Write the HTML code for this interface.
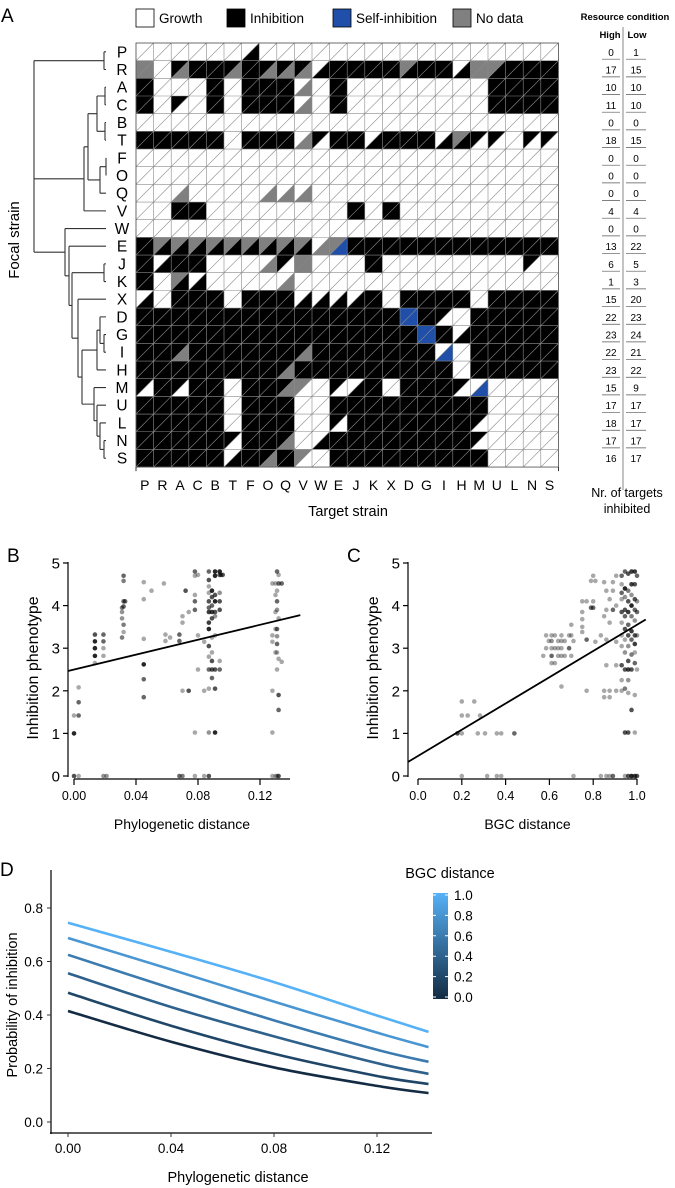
<!DOCTYPE html>
<html><head><meta charset="utf-8"><style>
body{margin:0;background:#fff}
svg{display:block;font-family:"Liberation Sans",Arial,sans-serif}
</style></head><body>
<svg id="fig" width="675" height="1188" viewBox="0 0 675 1188" xmlns="http://www.w3.org/2000/svg">
<g id="panelA"></g>
<g id="panelB"></g>
<g id="panelC"></g>
<g id="panelD"></g>
</svg>
<script>
// ---------- Panel A data ----------
const strains = ["P","R","A","C","B","T","F","O","Q","V","W","E","J","K","X","D","G","I","H","M","U","L","N","S"];
// each cell: first char = upper-left triangle (high), second = lower-right (low); w growth, b inhibition, s self, g no data
const matrixRows = [
"ww ww ww ww ww ww wb ww ww ww ww ww ww ww ww ww ww ww ww ww ww ww ww ww",
"gg ww bg bb bb bg bb bg bg bg wb bb bb bb bb gb bb bb wb gg gb bb bb bb",
"bb ww ww ww bb ww bb bb bb wg ww bb ww ww ww ww ww ww ww ww bb bb bb bb",
"bb ww bw ww bb ww bb bb bb wg ww bb ww ww ww ww ww ww ww ww bb bb bb bb",
"ww ww ww ww ww ww ww ww ww ww ww ww ww ww ww ww ww ww ww ww ww ww ww ww",
"bb bb bb bb bb ww bb bb bb wg bw bb bb wb bb bb bb wb gb bw bw ww bw bw",
"ww ww ww ww ww ww ww ww ww ww ww ww ww ww ww ww ww ww ww ww ww ww ww ww",
"ww ww ww ww ww ww ww ww ww ww ww ww ww ww ww ww ww ww ww ww ww ww ww ww",
"ww ww wg ww ww ww ww wg wg wg ww ww ww ww ww ww ww ww ww ww ww ww ww ww",
"ww ww bb bb ww ww ww ww ww ww ww ww bb ww bb ww ww ww ww ww ww ww ww ww",
"ww ww ww ww ww ww ww ww ww ww ww ww ww ww ww ww ww ww ww ww ww ww ww ww",
"bb gb gb gb gb gb gb gb gb gb wg gs bb bb bb bb bb bb bb bb bb bb bb bb",
"bb wb bb bb ww ww ww wg bw gg ww ww ww bb ww ww ww ww ww ww ww ww bw ww",
"bb ww gb wb ww ww ww ww wg ww ww ww ww ww ww ww ww ww ww ww ww ww ww ww",
"wb ww bb bb bb ww bb bb bb wb wb wb wb bb ww bb bb bb bb ww bb bb bb bb",
"bb bb bb bb bb bb bb bb bb bb bb bb bb bb bb ss bb bw ww bb bb bb bb bb",
"bb bb bb bb bb bb bb bb bb bb bb bb bb bb bb bb ss bb wb bb bb bb bb bb",
"bb bb bg bb bb bb bb bb bb bg bb bb bb bb bb bb bb ws ww bb bb bb bb bb",
"bb bb bb bb bb bb bb bb bg bb bb bb bb bb bb bb bb bb ww bb bb bb bb bb",
"bw bb bw bb bb ww bb bb bg gw ww bw wb bb ww bb bb bb bw ws ww ww ww ww",
"bb bb bb bb bb ww bb bb bb ww ww bb bb bb bb bb bb bb bb bb ww ww ww ww",
"bb bb bb bb bb ww bb bb bb ww ww bw bb bb bb bb bb bb bb bw ww ww ww ww",
"bb bb bb bb bb bw bb bb bg ww wb bb bb bb bb bb bb bb bb bw ww ww ww ww",
"bb bb bb bb bb wb bb bg bb gw ww bb bb bb bb bb bb bb bb bb ww ww ww ww"
];
const highCounts = [0,17,10,11,0,18,0,0,0,4,0,13,6,1,15,22,23,22,23,15,17,18,17,16];
const lowCounts  = [1,15,10,10,0,15,0,0,0,4,0,22,5,3,20,23,24,21,22,9,17,17,17,17];
const legendLabels = ["Growth","Inhibition","Self-inhibition","No data"];

// ---------- Panel B data ----------
const bX = [0,0,0, .003,.003,.003,.003, .0135,.0135,.0135,.0135,.0135, .019,.019,.019,.019, .019,.021,
 .032,.032,.032,.032,.031,.031,.031,.032,.032,.031,.033,
 .045,.045,.045,.045,.045,.045, .050, .058, .059,.059, .062,
 .068,.068,.068, .070,.070,.070,.070, .072, .074,.074,
 .078,.078,.078,.078,.078,.078,.078, .080,.080,.080, .084,.084,.084,
 .087,.087,.087,.087,.087,.087,.087,.087,.087,.087,.087,.087,.087,.087,.087,
 .089,.089,.089,.089,.089,.089,.089,.089,.089,.089,
 .091,.091,.091,.091,.091,.091,.091,.091,.091,.091,
 .094,.094,.094,.094,.094,.094,.094,.095, .096,
 .128,.128,.128,.128,.128,.128, .130,.130,.130,.130,.130,.130,
 .131,.131,.131,.131,.131,.131,.131,.131,.131,.131,
 .132,.132,.132,.132,.132,.132,.132, .134,.134];
const bY = [1,0,1.42, 2.08,1.73,1.42,0, 3.32,3.16,3.0,2.82,2.65, 3.32,3.16,3.0,2.82, 0,0,
 4.7,4.58,4.1,3.98,3.95,3.85,3.7,3.55,3.38,3.25,4.1,
 4.55,4.15,3.22,2.62,2.27,1.85, 4.35, 4.52, 3.32,3.17, 3.25,
 3.32,3.17,0, 3.75,3.6,2.0,0, 4.35, 3.85,2.0,
 4.8,4.7,4.25,4.1,3.9,1.02,0, 4.72,2.5,3.3, 3.15,2.0,0,
 4.8,4.6,4.3,4.1,3.85,3.6,3.45,3.05,2.8,2.5,2.05,1.02,0,4.45,3.95,
 4.35,4.2,4.0,3.85,3.7,3.25,2.9,2.5,2.7,2.3,
 4.8,4.7,4.25,4.1,3.85,3.75,3.3,2.5,2.05,1.02,
 4.8,4.72,4.3,4.1,3.9,2.5,2.7,4.72, 4.72,
 0,4.52,3.3,3.15,2.0,1.02, 4.52,4.25,3.85,3.45,2.9,0,
 4.8,4.35,4.1,3.9,3.45,3.28,3.1,2.9,2.5,0,
 4.72,4.52,3.7,2.75,1.9,1.55,0, 4.52,2.68];
const bShade = [1,.8,.4, .4,.7,.7,.4, .8,1,1,1,.4, .7,.7,.4,.4, .5,.5,
 .7,.6,.7,.7,.6,.5,.5,.6,.4,.6,.7,
 .4,.4,.4,1,.7,.7, .4, .4, .4,.4, .4,
 .7,.7,.7, .4,.4,.4,.6, .8, .4,.8,
 .7,.4,.4,.7,.7,.4,.4, .4,.4,.4, .4,.4,.4,
 .7,.8,.4,.8,.9,.9,1,.8,.4,.7,.4,.5,.8,.4,.7,
 1,.8,.7,.9,.8,.4,.4,.8,.8,.7,
 1,1,.8,1,.8,.5,.4,.8,.8,1,
 1,.8,.5,.8,.8,.7,.4,.7, .7,
 .4,.4,.4,.4,.4,.4, .4,.4,.4,.4,.4,.4,
 .7,.4,.7,.5,.7,.5,.7,.4,.4,.4,
 .4,.7,.4,.4,.8,.7,.8, .7,.4];
const bFit = [2.5, 3.75]; // fitted values at x=0 and x=0.143
const bXTicks = ["0.00","0.04","0.08","0.12"];
const bXTickVals = [0,0.04,0.08,0.12];
const yTicks = [0,1,2,3,4,5];

// ---------- Panel C data ----------
const cX = [.18, .20,.20,.20,.20, .227, .257, .273, .283, .306, .316, .36,.36, .38,.38, .44,
 .572, .585,.585, .597, .61,.61,.61,.61,.61, .625,.625,.625, .64,.64,.64, .655,.655,.655,.655,.655, .67,.67, .69,.69, .70,.70,.70, .71,.71,
 .75,.75,.75,.75,.75, .77,.77,.77, .79,.79, .80,.80,.80, .81,.81, .835,.835,
 .85,.85,.85,.85, .86,.86,.86,.86,.86, .875,.875,.875,.875,.875, .89,.89,.89,.89, .905,.905,.905,.905,.905,
 .93,.93,.93,.93,.93,.93,.93,.93,.93,.93,.93,
 .945,.945,.945,.945,.945,.945,.945,.945,.945,.945,.945,.945,
 .96,.96,.96,.96,.96,.96,.96,.96,.96,.96,.96,.96,.96,
 .975,.975,.975,.975,.975,.975,.975,.975,.975,.975,.975,
 .99,.99,.99,.99,.99,.99,.99,.99,.99,.99,.99,.99,
 1.0,1.0,1.0,1.0,1.0,1.0];
const cY = [1.0, 1.75,1.42,1.0,0, 1.42, 1.75, 1.0, 1.42, 1.0, 0, 0,1.0, 0,1.0, 1.0,
 2.82, 3.3,3.0, 3.17, 3.3,3.17,3.0,2.82,2.65, 3.3,3.0,2.65, 3.17,3.0,2.82, 3.3,3.0,2.82,2.1,3.17, 3.17,2.82, 3.3,3.0, 3.55,2.82,3.3, 0,3.17,
 3.68,3.38,4.1,3.85,3.5, 4.1,3.2,2.0, 4.58,3.95, 4.7,3.95,4.1, 4.58,3.15, 0,3.3,
 4.55,3.75,2.0,1.85, 4.35,3.9,3.2,2.6,0, 4.15,3.6,2.0,1.85,0, 4.55,4.35,3.9,0, 4.7,4.0,3.15,2.6,2.0,
 4.7,4.5,4.3,4.15,3.85,3.6,3.3,3.05,2.6,2.25,2.0,
 4.8,4.4,4.2,3.9,3.75,3.45,3.2,2.9,2.5,2.05,1.02,0,
 4.75,4.35,4.1,3.85,3.55,3.3,3.05,2.7,2.5,2.25,1.95,1.02,0,
 4.8,4.5,4.25,4.0,3.75,3.4,3.2,2.85,2.5,1.55,0,
 4.8,4.5,4.15,3.9,3.65,3.3,3.1,2.9,2.65,1.9,1.02,0,
 4.7,4.1,3.85,3.3,2.5,0];
const cShade = [.8, .4,.4,.4,.4, .4, .4, .4, .4, .4, .4, .4,.4, .4,.4, .7,
 .4, .4,.4, .4, .4,.5,.4,.7,.4, .4,.4,.4, .4,.4,.4, .4,.4,.4,.4,.4, .4,.4, .4,.7, .4,.4,.4, .4,.4,
 .4,.4,.4,.4,.4, .4,.7,.4, .4,.7, .4,.7,.4, .4,.4, .4,.4,
 .4,.4,.4,.4, .4,.4,.4,.4,.4, .4,.4,.4,.4,.4, .4,.4,.7,.7, .4,.4,.4,.4,.4,
 .7,.4,.7,.4,.8,.4,.4,.4,.8,.4,.4,
 .7,1,.5,.8,.7,.8,.4,.5,.8,.6,.8,.4,
 .8,.6,.8,.9,.7,.8,.5,.8,.9,.5,.4,.8,.8,
 .9,.9,.5,1,.6,.9,.7,.6,.8,.8,1,
 .9,.8,.8,.7,.5,.8,.9,.4,.7,.4,.4,.9,
 .7,.5,.7,.5,.4,.8];
const cFit = [0.47, 3.55]; // fitted values at x=0 and x=1
const cXTicks = ["0.0","0.2","0.4","0.6","0.8","1.0"];
const cXTickVals = [0,0.2,0.4,0.6,0.8,1.0];

// ---------- Panel D data ----------
const dXs = [0, 0.04, 0.08, 0.12, 0.14];
const dBgc = [0.0, 0.2, 0.4, 0.6, 0.8, 1.0];
const dCurve00 = [0.415, 0.30, 0.204, 0.135, 0.108];
const dCurve02 = [0.483, 0.36, 0.255, 0.172, 0.142];
const dCurve04 = [0.556, 0.43, 0.32, 0.22, 0.18];
const dCurve06 = [0.625, 0.50, 0.38, 0.27, 0.225];
const dCurve08 = [0.688, 0.57, 0.45, 0.334, 0.28];
const dCurve10 = [0.745, 0.636, 0.523, 0.398, 0.337];
const dCurves = [dCurve00, dCurve02, dCurve04, dCurve06, dCurve08, dCurve10];
const dYTicks = [0, 0.2, 0.4, 0.6, 0.8];
const dYTickLabels = ["0.0","0.2","0.4","0.6","0.8"];
const dXTicks = [0, 0.04, 0.08, 0.12];
const dXTickLabels = ["0.00","0.04","0.08","0.12"];
const dLegendLabels = ["0.0","0.2","0.4","0.6","0.8","1.0"];

// ---------- helpers ----------
const NS = "http://www.w3.org/2000/svg";
function mk(parent, tag, attrs, text){
  const e = document.createElementNS(NS, tag);
  for (const k in attrs) e.setAttribute(k, attrs[k]);
  if (text !== undefined) e.textContent = text;
  parent.appendChild(e);
  return e;
}
const FILL = {w:"#ffffff", b:"#000000", g:"#808080", s:"#1f4fa8"};

// ================= PANEL A =================
(function(){
  const g = document.getElementById("panelA");
  let t = mk(g,"text",{x:1,y:22,"font-size":19});
  t.textContent = "A";
  
  
  const legX = [136, 227, 333, 453];
  const legFill = ["#fff","#000","#1f4fa8","#808080"];
  legendLabels.forEach((lab,i)=>{
    const r = mk(g,"rect",{x:legX[i],y:9,width:18,height:18,fill:legFill[i],stroke:"#000","stroke-width":0.8});
    
    
    const tx = mk(g,"text",{x:legX[i]+23,y:23,"font-size":13.5});
    tx.textContent = lab;
    
    
  });
  const x0 = 136, y0 = 43, cw = 17.6, ch = 17.67;
  const n = strains.length;
  const cells = mk(g,"g",{});
  
  
  matrixRows.forEach((row,r)=>{
    const toks = row.split(" ");
    toks.forEach((tk,c)=>{
      const xa = x0+c*cw, xb = xa+cw, ya = y0+r*ch, yb = ya+ch;
      const ul = mk(cells,"polygon",{points:`${xa},${ya} ${xb},${ya} ${xa},${yb}`,fill:FILL[tk[0]]});
      
      
      const lr = mk(cells,"polygon",{points:`${xb},${ya} ${xb},${yb} ${xa},${yb}`,fill:FILL[tk[1]]});
      
      
    });
  });
  let d = "";
  for (let i=0;i<=n;i++){
    d += `M${x0+i*cw},${y0}V${y0+n*ch}M${x0},${y0+i*ch}H${x0+n*cw}`;
  }
  for (let r=0;r<n;r++) for (let c=0;c<n;c++){
    d += `M${x0+c*cw},${y0+(r+1)*ch}L${x0+(c+1)*cw},${y0+r*ch}`;
  }
  const gl = mk(g,"path",{d:d,stroke:"#8a8a8a","stroke-width":0.6,fill:"none"});
  
  
  const br = mk(g,"rect",{x:x0,y:y0,width:n*cw,height:n*ch,fill:"none",stroke:"#555","stroke-width":0.8});
  
  
  strains.forEach((s,i)=>{
    const rl = mk(g,"text",{x:122,y:y0+(i+0.5)*ch+5.5,"font-size":15.5,"text-anchor":"middle"});
    rl.textContent = s;
    
    
    const cl = mk(g,"text",{x:x0+(i+0.5)*cw,y:490,"font-size":14,"text-anchor":"middle"});
    cl.textContent = s;
    
    
  });
  mk(g,"path",{d:`M${x0},${y0+n*ch}v4M${x0+n*cw},${y0+n*ch}v4`,stroke:"#000","stroke-width":0.8});
  t = mk(g,"text",{x:348,y:516,"font-size":14.5,"text-anchor":"middle"});
  t.textContent = "Target strain";
  
  
  t = mk(g,"text",{x:0,y:0,"font-size":15,"text-anchor":"middle",transform:"translate(19,240) rotate(-90)"});
  t.textContent = "Focal strain";
  
  
  const yc = i => y0+(i+0.5)*ch;
  const idx = s => strains.indexOf(s);
  const tree = {x:34, ch:[
    {x:104, ch:["P","R"]},
    {x:84, ch:[
      {x:88, ch:[
        {x:97, ch:[{x:105,ch:["A","C"]},{x:105,ch:["B","T"]}]},
        {x:100, ch:[{x:106,ch:["F","O"]},"Q"]}
      ]},
      "V"]},
    {x:65, ch:["W",
      {x:69, ch:["E",
        {x:72, ch:[{x:104,ch:["J","K"]},
          {x:78, ch:["X",
            {x:82, ch:[
              {x:97, ch:[{x:100, ch:["D",{x:104,ch:["G","I"]}]},"H"]},
              {x:94, ch:["M",{x:97, ch:["U",{x:100, ch:["L",{x:104,ch:["N","S"]}]}]}]}
            ]}
          ]}
        ]}
      ]}
    ]}
  ]};
  let dd = "";
  function walk(node){
    if (typeof node === "string") return {y:yc(idx(node)), x:106};
    const kids = node.ch.map(walk);
    const ys = kids.map(k=>k.y);
    kids.forEach(k=>{ dd += `M${node.x},${k.y}H${k.x}`; });
    dd += `M${node.x},${Math.min(...ys)}V${Math.max(...ys)}`;
    return {y: ys.reduce((a,b)=>a+b,0)/ys.length, x:node.x};
  }
  walk(tree);
  const dp = mk(g,"path",{d:dd,stroke:"#333","stroke-width":1.1,fill:"none"});
  
  
  t = mk(g,"text",{x:625,y:20,"font-size":9.5,"font-weight":"bold","text-anchor":"middle"});
  t.textContent = "Resource condition";
  
  
  t = mk(g,"text",{x:610,y:38,"font-size":9.5,"font-weight":"bold","text-anchor":"middle"});
  t.textContent = "High";
  
  
  t = mk(g,"text",{x:637,y:38,"font-size":9.5,"font-weight":"bold","text-anchor":"middle"});
  t.textContent = "Low";
  
  
  mk(g,"line",{x1:623,y1:27,x2:623,y2:490,stroke:"#555","stroke-width":0.7});
  let ul = "";
  highCounts.forEach((v,i)=>{
    const ty = yc(i)+4;
    const a = mk(g,"text",{x:611,y:ty,"font-size":10,"text-anchor":"middle"});
    a.textContent = v;
    
    
    const b = mk(g,"text",{x:636,y:ty,"font-size":10,"text-anchor":"middle"});
    b.textContent = lowCounts[i];
    
    
    const ly = y0+(i+1)*ch-1.5;
    if (i<n-1) ul += `M602,${ly}H620M626,${ly}H646`;
  });
  mk(g,"path",{d:ul,stroke:"#555","stroke-width":0.7});
  t = mk(g,"text",{x:627,y:497,"font-size":12.5,"text-anchor":"middle"});
  t.textContent = "Nr. of targets";
  
  
  t = mk(g,"text",{x:627,y:513,"font-size":12.5,"text-anchor":"middle"});
  t.textContent = "inhibited";
  
  
})();

// ================= PANEL B & C =================
function scatterPanel(gid, letter, xs, ys, shades, fit, fitX, xTickVals, xTickLabels, xmin, xmax, px0, px1, axX, xAxStart, xAxEnd, xTitle, lineX0, lineX1){
  const g = document.getElementById(gid);
  const sx = v => px0 + (v-xmin)/(xmax-xmin)*(px1-px0);
  const sy = v => 776 - v/5*213;
  let t = mk(g,"text",{x:axX-61,y:562,"font-size":19});
  t.textContent = letter;
  
  
  mk(g,"line",{x1:axX,y1:562,x2:axX,y2:777,stroke:"#000","stroke-width":1.2});
  yTicks.forEach(v=>{
    mk(g,"line",{x1:axX-5,y1:sy(v),x2:axX,y2:sy(v),stroke:"#000","stroke-width":1.2});
    const tl = mk(g,"text",{x:axX-8,y:sy(v)+5.5,"font-size":15,"text-anchor":"end"});
    tl.textContent = v;
    
    
  });
  mk(g,"line",{x1:xAxStart,y1:779,x2:xAxEnd,y2:779,stroke:"#000","stroke-width":1.2});
  xTickVals.forEach((v,i)=>{
    mk(g,"line",{x1:sx(v),y1:779,x2:sx(v),y2:785,stroke:"#000","stroke-width":1.2});
    const tl = mk(g,"text",{x:sx(v),y:800,"font-size":12.5,"text-anchor":"middle"});
    tl.textContent = xTickLabels[i];
    
    
  });
  t = mk(g,"text",{x:(xAxStart+xAxEnd)/2,y:829,"font-size":14,"text-anchor":"middle"});
  t.textContent = xTitle;
  
  
  t = mk(g,"text",{x:0,y:0,"font-size":16,"text-anchor":"middle",transform:`translate(${axX-30},668) rotate(-90)`});
  t.textContent = "Inhibition phenotype";
  
  
  const pts = mk(g,"g",{});
  
  
  xs.forEach((v,i)=>{
    const c = mk(pts,"circle",{cx:sx(v),cy:sy(ys[i]),r:2.3,fill:`rgba(0,0,0,${shades[i]*0.85})`});
    
    
  });
  const slope = (fit[1]-fit[0])/fitX;
  const ln = mk(g,"line",{x1:sx(lineX0),y1:sy(fit[0]+slope*lineX0),x2:sx(lineX1),y2:sy(fit[0]+slope*lineX1),stroke:"#000","stroke-width":1.8});
  
  
}
scatterPanel("panelB","B",bX,bY,bShade,bFit,0.143,bXTickVals,bXTicks,0,0.12,74,260,68,74,290,"Phylogenetic distance",-0.0039,0.146);
scatterPanel("panelC","C",cX,cY,cShade,cFit,1.0,cXTickVals,cXTicks,0,1.0,418,637,408,418,637,"BGC distance",-0.046,1.04);

// ================= PANEL D =================
(function(){
  const g = document.getElementById("panelD");
  const sx = v => 68 + v/0.04*103;
  const sy = v => 1122 - v/0.2*53.5;
  let t = mk(g,"text",{x:0,y:876,"font-size":19});
  t.textContent = "D";
  
  
  mk(g,"line",{x1:51,y1:870,x2:51,y2:1134,stroke:"#000","stroke-width":1.2});
  mk(g,"line",{x1:50,y1:1133,x2:432,y2:1133,stroke:"#000","stroke-width":1.2});
  dYTicks.forEach((v,i)=>{
    mk(g,"line",{x1:47,y1:sy(v),x2:51,y2:sy(v),stroke:"#333","stroke-width":1});
    const tl = mk(g,"text",{x:43,y:sy(v)+5,"font-size":13.5,"text-anchor":"end"});
    tl.textContent = dYTickLabels[i];
    
    
  });
  dXTicks.forEach((v,i)=>{
    mk(g,"line",{x1:sx(v),y1:1133,x2:sx(v),y2:1137,stroke:"#333","stroke-width":1});
    const tl = mk(g,"text",{x:sx(v),y:1153,"font-size":13.5,"text-anchor":"middle"});
    tl.textContent = dXTickLabels[i];
    
    
  });
  t = mk(g,"text",{x:238,y:1182,"font-size":14.5,"text-anchor":"middle"});
  t.textContent = "Phylogenetic distance";
  
  
  t = mk(g,"text",{x:0,y:0,"font-size":14.5,"text-anchor":"middle",transform:"translate(17,1005) rotate(-90)"});
  t.textContent = "Probability of inhibition";
  
  
  const lo=[19,43,67], hi=[86,177,247];
  const col = f => `rgb(${lo.map((a,i)=>Math.round(a+(hi[i]-a)*f)).join(",")})`;
  function smooth(pts){
    let d = `M${pts[0][0]},${pts[0][1]}`;
    for (let i=0;i<pts.length-1;i++){
      const p0=pts[Math.max(0,i-1)], p1=pts[i], p2=pts[i+1], p3=pts[Math.min(pts.length-1,i+2)];
      const c1=[p1[0]+(p2[0]-p0[0])/6, p1[1]+(p2[1]-p0[1])/6];
      const c2=[p2[0]-(p3[0]-p1[0])/6, p2[1]-(p3[1]-p1[1])/6];
      d += `C${c1[0]},${c1[1]} ${c2[0]},${c2[1]} ${p2[0]},${p2[1]}`;
    }
    return d;
  }
  dCurves.forEach((vals,k)=>{
    const pts = vals.map((v,i)=>[sx(dXs[i]), sy(v)]);
    const p = mk(g,"path",{d:smooth(pts),fill:"none",stroke:col(dBgc[k]),"stroke-width":2.6});
    
    
  });
  t = mk(g,"text",{x:450,y:878,"font-size":14.5,"text-anchor":"middle"});
  t.textContent = "BGC distance";
  
  
  const defs = mk(g,"defs",{});
  const lg = mk(defs,"linearGradient",{id:"cbg",x1:0,y1:1,x2:0,y2:0});
  mk(lg,"stop",{offset:"0","stop-color":col(0)});
  mk(lg,"stop",{offset:"1","stop-color":col(1)});
  const cb = mk(g,"rect",{x:433,y:893,width:15,height:106,fill:"url(#cbg)"});
  
  
  const cby = v => 997 - v*102;
  dLegendLabels.forEach((lab,i)=>{
    const v = dBgc[i];
    mk(g,"path",{d:`M433,${cby(v)}h3M445,${cby(v)}h3`,stroke:"#fff","stroke-width":1});
    const tl = mk(g,"text",{x:454,y:cby(v)+5,"font-size":13.5});
    tl.textContent = lab;
    
    
  });
})();
</script>
</body></html>
